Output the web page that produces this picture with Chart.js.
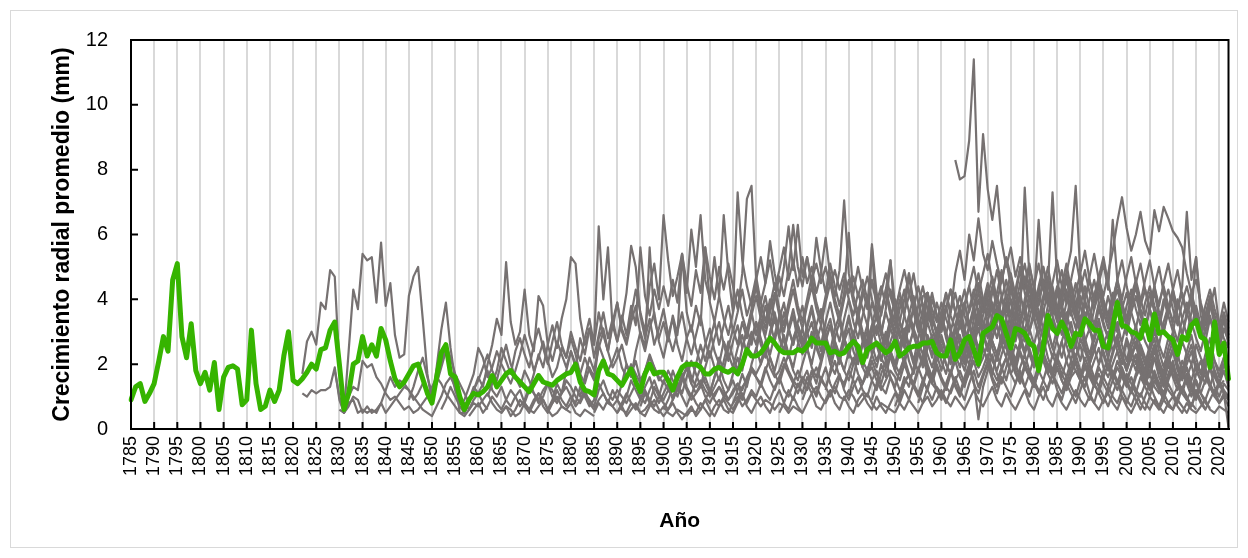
<!DOCTYPE html>
<html>
<head>
<meta charset="utf-8">
<script src="https://cdn.jsdelivr.net/npm/chart.js@4.4.1/dist/chart.umd.min.js"></script>
<style>
  html, body { margin: 0; background: #fff; }
  #wrap { width: 1248px; height: 558px; }
</style>
</head>
<body>
<div id="wrap"><canvas id="grafico" width="1248" height="558"></canvas></div>
<script>
// --- Crecimiento radial por árbol (gris) y promedio (verde) ---

const primerAnio = 1785;
const ultimoAnio = 2022;
const anios = [];
for (let a = primerAnio; a <= ultimoAnio; a++) anios.push(a);

const ticksY = [0, 2, 4, 6, 8, 10, 12];

// promedio de la cronología, 1785-2022
const promedio = [
  0.9, 1.3, 1.4, 0.85, 1.1,
  1.4, 2.1, 2.85, 2.4, 4.6, 5.1, 2.85, 2.2, 3.25, 1.8,
  1.4, 1.75, 1.2, 2.05, 0.6, 1.6, 1.9, 1.95, 1.85, 0.75,
  0.9, 3.05, 1.4, 0.6, 0.7, 1.2, 0.85, 1.2, 2.25, 3.0,
  1.5, 1.4, 1.55, 1.75, 2.0, 1.85, 2.45, 2.5, 3.05, 3.3,
  2.0, 0.6, 1.1, 2.0, 2.1, 2.85, 2.25, 2.6, 2.25, 3.1,
  2.75, 2.1, 1.55, 1.3, 1.45, 1.7, 1.95, 2.0, 1.55, 1.1,
  0.8, 1.6, 2.35, 2.6, 1.7, 1.6, 1.0, 0.6, 0.9, 1.1,
  1.05, 1.15, 1.3, 1.65, 1.3, 1.5, 1.7, 1.8, 1.6, 1.45,
  1.3, 1.15, 1.4, 1.65, 1.45, 1.4, 1.35, 1.5, 1.6, 1.7,
  1.75, 2.0, 1.45, 1.2, 1.15, 1.05, 1.8, 2.1, 1.7, 1.65,
  1.5, 1.35, 1.6, 1.85, 1.45, 1.15, 1.7, 2.0, 1.7, 1.75,
  1.75, 1.5, 1.2, 1.6, 1.9, 2.0, 2.0, 2.0, 1.9, 1.7,
  1.7, 1.85, 1.9, 1.8, 1.75, 1.85, 1.7, 2.0, 2.45, 2.25,
  2.25, 2.35, 2.55, 2.8, 2.65, 2.45, 2.35, 2.35, 2.35, 2.45,
  2.4, 2.55, 2.8, 2.65, 2.65, 2.65, 2.35, 2.4, 2.3, 2.35,
  2.55, 2.7, 2.55, 2.05, 2.45, 2.55, 2.65, 2.5, 2.35, 2.45,
  2.7, 2.25, 2.35, 2.5, 2.55, 2.55, 2.65, 2.65, 2.7, 2.35,
  2.25, 2.25, 2.75, 2.15, 2.35, 2.75, 2.85, 2.45, 2.0, 2.95,
  3.05, 3.15, 3.5, 3.4, 2.95, 2.5, 3.1, 3.05, 2.95, 2.65,
  2.55, 1.8, 2.55, 3.5, 3.1, 2.95, 3.3, 3.0, 2.55, 2.95,
  2.9, 3.4, 3.25, 3.05, 3.05, 2.55, 2.5, 3.15, 3.9, 3.2,
  3.15, 3.0, 2.95, 2.8, 3.35, 2.75, 3.55, 2.95, 3.0, 2.85,
  2.75, 2.3, 2.85, 2.75, 3.2, 3.35, 2.85, 2.75, 1.9, 3.3,
  2.3, 2.65, 1.55
];

// series individuales: año de inicio y valores anuales
const inicioArboles = [1822, 1822, 1830, 1829, 1845, 1852, 1858, 1862, 1865, 1870,
                       1875, 1880, 1885, 1890, 1895, 1900, 1905, 1910, 1915, 1920,
                       1925, 1935, 1945, 1963, 1955, 1950, 1940, 1930, 1890, 1950,
                       1958];

const arbol01 = [1.7, 2.7, 3.0, 2.6, 3.9, 3.7, 4.9, 4.7, 1.9, 0.5,
  0.7, 1.0, 0.9, 0.5, 0.7, 0.5, 0.6, 0.8, 0.5, 0.7,
  0.9, 1.1, 1.3, 1.2, 1.0, 0.8, 0.6, 0.5, 0.4, 0.7,
  1.0, 1.4, 1.6, 1.3, 1.0, 0.8, 0.6, 0.9, 1.1, 0.8, 0.6];
const arbol02 = [1.1, 1.0, 1.2, 1.1, 1.2, 1.2, 1.3, 1.9, 0.9, 0.5,
  1.0, 1.3, 1.2, 2.1, 1.9, 2.0, 1.6, 1.4, 1.1, 0.9,
  1.0, 0.8, 0.6, 0.7, 0.5, 0.6, 0.8, 1.0, 1.3, 1.6,
  1.4, 1.1, 0.9, 0.7, 0.5, 0.4, 0.6, 0.8, 0.7, 0.9,
  1.1, 0.8, 0.6, 0.5, 0.7, 0.6, 0.4, 0.5, 0.8, 0.6,
  0.5, 0.7, 0.9, 0.6, 0.4, 0.5, 0.7, 0.6, 0.5];
const arbol03 = [0.6, 0.5, 2.4, 4.3, 3.7, 5.4, 5.2, 5.3, 3.9, 5.75,
  3.8, 4.5, 2.9, 2.2, 2.3, 4.1, 4.7, 5.0, 3.4, 1.7,
  0.8, 1.9, 3.05, 3.9, 2.5, 1.5, 0.5, 0.5, 0.9, 1.3,
  1.1, 1.4, 1.8, 1.2, 1.0, 1.3, 0.9, 0.7, 1.0, 1.2,
  0.8, 0.6, 0.9, 1.1, 0.7, 0.5, 0.8, 1.0, 0.7, 0.6,
  0.8, 0.5, 0.4, 0.6, 0.5, 0.4];
const arbol04 = [1.8,
  1.0, 0.5, 0.8, 0.9, 0.5, 0.6, 0.5, 0.6, 0.5, 0.8,
  1.2, 1.6, 1.3, 1.5, 1.4, 1.2, 0.9, 1.1, 1.4, 1.2,
  0.9, 1.5, 2.0, 2.6, 2.2, 1.7, 1.4, 1.1, 0.8, 1.2,
  1.5, 1.9, 2.3, 1.8, 1.5, 2.1, 2.6, 2.0, 1.6, 1.3,
  1.8, 1.5, 1.1, 0.9, 1.2, 1.4, 1.0, 0.8, 1.1, 1.3,
  1.0, 0.7, 0.9, 1.2, 0.8, 0.6, 0.9, 1.1, 0.8, 0.7,
  0.9, 0.6, 0.5, 0.8, 0.7, 0.5, 0.6, 0.8, 0.6, 0.5,
  0.7, 0.5, 0.4, 0.6, 0.5, 0.4];
const arbol05 = [0.9, 1.3, 1.8, 2.2, 1.6, 1.1,
  1.4, 1.9, 2.4, 1.8, 1.2, 0.8, 0.9, 1.3, 1.7, 2.5,
  2.2, 1.6, 1.9, 2.4, 2.0, 1.7, 1.4, 1.8, 2.3, 2.9,
  2.4, 1.8, 2.2, 2.7, 2.1, 1.6, 1.9, 2.5, 2.2, 2.8,
  2.3, 1.7, 1.4, 1.9, 1.6, 2.8, 3.1, 2.4, 1.9, 2.2,
  2.6, 2.0, 1.7, 2.1, 1.5, 1.8, 2.3, 1.9, 1.6, 1.4,
  1.8, 1.5, 1.2, 1.6, 1.9, 1.4, 1.1, 1.3, 1.6, 1.2,
  1.0, 1.3, 1.1, 0.9, 1.2, 1.4, 1.0, 0.8, 1.1, 0.9,
  0.7, 0.9, 0.8, 0.6, 0.8, 0.7, 0.5, 0.7, 0.6, 0.5];
const arbol06 = [0.6, 0.9, 1.3, 1.0, 0.7, 0.5, 0.8, 1.2,
  1.6, 1.3, 2.0, 2.6, 3.4, 2.9, 5.15, 3.3, 2.6, 3.0,
  4.3, 2.9, 2.4, 4.1, 3.8, 2.6, 2.1, 2.7, 2.3, 1.9,
  2.4, 2.0, 1.7, 2.2, 1.8, 1.5, 2.6, 2.2, 1.8, 2.1,
  2.5, 1.9, 1.6, 2.0, 1.7, 1.4, 1.8, 2.2, 1.9, 1.5,
  1.7, 1.4, 1.2, 1.5, 1.8, 2.1, 1.6, 1.3, 1.5, 1.2,
  1.0, 1.3, 1.6, 1.2, 0.9, 1.1, 1.4, 1.2, 1.6, 1.9,
  1.7, 2.0, 2.4, 1.9, 1.6, 1.8, 2.2, 1.8, 1.5, 1.3,
  1.6, 1.4, 1.1, 1.3, 1.0, 0.8, 1.1, 1.3, 1.0, 0.9,
  1.2, 1.0, 0.7, 0.9, 1.1, 0.8, 0.6, 0.8, 0.7, 0.6, 0.5];
const arbol07 = [0.4, 0.6,
  0.8, 0.5, 0.7, 1.0, 0.8, 0.6, 0.9, 1.2, 1.0, 0.7,
  0.9, 1.3, 1.1, 0.8, 1.0, 1.4, 1.2, 0.9, 1.1, 1.5,
  1.3, 1.0, 0.8, 1.1, 0.9, 0.7, 1.2, 1.5, 1.1, 0.9,
  1.2, 1.0, 0.8, 1.1, 1.4, 1.0, 0.8, 1.2, 1.5, 1.1,
  0.9, 1.2, 1.0, 1.3, 1.6, 1.2, 0.9, 1.1, 1.4, 1.0,
  0.8, 1.1, 1.3, 1.0, 1.2, 1.5, 1.1, 0.9, 1.4, 1.8,
  1.6, 1.4, 1.9, 1.5, 1.2, 1.6, 2.0, 1.7, 1.4, 1.8,
  1.5, 1.2, 1.6, 1.9, 1.5, 1.3, 1.7, 2.1, 1.6, 1.4,
  1.8, 1.5, 1.1, 1.4, 1.7, 1.9, 1.5, 1.2, 1.5, 1.8,
  1.6, 1.2, 1.4, 1.7, 1.3, 1.1, 1.5, 1.8, 1.4, 1.2,
  1.0, 1.3, 1.1, 1.5, 1.8, 1.4, 1.7, 2.1, 1.6, 1.9,
  2.3, 1.8, 1.5, 1.9, 2.2, 1.7, 2.0, 1.6, 1.3, 1.7,
  1.4, 1.1, 1.5, 2.0, 1.7, 1.9, 1.5, 1.2, 1.6, 1.8,
  1.5, 1.9, 1.6, 1.3, 1.7, 1.4, 1.1, 1.5, 1.9, 1.6,
  1.3, 1.6, 1.2, 1.0, 1.4, 1.7, 1.3, 1.1, 1.5, 1.2,
  1.0, 1.3, 1.1, 0.9, 1.2, 1.5, 1.1, 0.9, 1.3, 1.0,
  0.8, 1.1, 0.9];
const arbol08 = [1.0, 1.4, 1.8, 2.5, 2.1, 1.7, 2.4, 2.8,
  2.3, 1.9, 2.6, 3.1, 2.5, 2.0, 2.7, 3.3, 2.6, 2.2,
  3.0, 2.5, 2.1, 2.8, 3.4, 2.6, 6.25, 4.0, 5.6, 3.1,
  3.9, 3.0, 2.6, 3.3, 3.8, 2.9, 2.4, 3.1, 3.6, 2.7,
  2.2, 2.9, 3.4, 2.6, 2.1, 2.8, 3.2, 2.5, 2.0, 2.6,
  3.1, 2.4, 2.0, 2.7, 2.3, 1.9, 2.5, 2.9, 2.3, 2.8,
  3.3, 2.6, 2.2, 2.9, 3.4, 2.8, 2.4, 3.0, 3.5, 2.7,
  2.3, 2.9, 3.3, 2.6, 2.2, 2.8, 3.2, 2.5, 2.1, 2.7,
  3.1, 2.4, 2.0, 2.6, 3.0, 2.3, 1.9, 2.5, 2.9, 2.2,
  1.8, 2.4, 2.8, 2.1, 1.7, 2.3, 2.7, 2.0, 1.6, 2.2,
  2.6, 2.0, 1.7, 2.4, 2.9, 2.3, 2.0, 2.6, 3.1, 2.5,
  2.1, 2.8, 3.2, 2.6, 2.2, 2.9, 3.3, 2.7, 2.3, 2.8,
  2.4, 2.0, 2.6, 3.1, 2.5, 2.1, 2.7, 3.2, 2.6, 2.2,
  2.8, 2.4, 2.0, 2.5, 2.9, 2.3, 1.9, 2.4, 2.8, 2.2,
  1.8, 2.3, 2.7, 2.1, 1.7, 2.2, 2.6, 2.0, 1.6, 2.1,
  2.5, 1.9, 1.6, 2.0, 2.4, 1.8, 1.5, 1.9, 2.3, 1.7,
  1.4, 1.8, 1.3];
const arbol09 = [0.5, 0.7, 0.4, 0.6, 0.9,
  0.7, 0.5, 0.8, 1.1, 0.9, 0.6, 0.8, 1.2, 0.9, 0.7,
  1.0, 0.8, 1.3, 1.0, 0.7, 0.9, 1.4, 1.1, 0.8, 1.2,
  0.9, 0.7, 1.0, 1.5, 1.2, 0.9, 1.3, 1.6, 1.1, 0.8,
  1.1, 1.4, 0.9, 1.2, 1.7, 1.3, 1.0, 1.5, 1.9, 1.4,
  1.1, 1.6, 2.0, 1.5, 1.2, 1.7, 2.2, 1.8, 2.5, 3.0,
  2.6, 3.3, 2.8, 2.3, 2.9, 3.5, 2.7, 2.2, 2.8, 3.2,
  2.6, 3.1, 3.7, 2.9, 2.4, 3.0, 3.4, 2.7, 2.3, 2.9,
  3.5, 2.8, 2.2, 2.7, 3.2, 2.6, 2.1, 2.5, 3.0, 2.4,
  2.0, 2.6, 3.1, 2.5, 2.0, 2.4, 2.9, 2.3, 1.9, 2.5,
  2.1, 1.7, 2.3, 2.8, 2.2, 1.8, 2.4, 3.0, 2.5, 2.9,
  3.4, 2.7, 2.3, 2.9, 3.3, 2.6, 2.1, 2.7, 3.1, 2.5,
  2.0, 2.6, 3.2, 2.7, 2.2, 2.8, 3.3, 2.6, 2.1, 2.7,
  3.1, 2.5, 2.0, 2.4, 2.9, 2.3, 1.8, 2.3, 2.8, 2.2,
  1.8, 2.2, 2.6, 2.0, 1.6, 2.1, 2.5, 1.9, 1.5, 2.0,
  2.4, 1.8, 1.5, 1.9, 1.4, 1.1];
const arbol10 = [0.8, 1.2, 1.7, 2.3, 1.9, 2.6, 3.2, 2.5, 3.4, 4.0,
  5.3, 5.1, 3.4, 2.6, 3.1, 2.2, 2.9, 3.6, 2.8, 3.4,
  2.7, 3.3, 4.2, 5.65, 5.0, 3.5, 2.8, 3.4, 2.6, 3.1,
  3.7, 2.9, 2.4, 3.0, 3.6, 2.8, 2.3, 2.9, 3.5, 2.7,
  2.2, 2.8, 3.3, 2.6, 2.1, 2.7, 3.2, 2.5, 3.0, 3.6,
  2.9, 3.5, 4.1, 3.3, 2.7, 3.4, 3.9, 3.1, 2.6, 3.3,
  3.8, 3.0, 2.5, 3.2, 3.7, 2.9, 2.4, 3.1, 3.5, 2.8,
  2.3, 2.9, 3.4, 2.7, 2.2, 2.8, 3.2, 2.6, 2.1, 2.7,
  3.1, 2.5, 2.0, 2.6, 3.0, 2.4, 1.9, 2.5, 2.9, 2.3,
  1.8, 2.4, 2.9, 2.3, 1.9, 2.6, 3.2, 2.7, 3.5, 2.9,
  2.4, 3.1, 3.7, 3.0, 2.5, 3.2, 3.6, 2.9, 2.4, 3.0,
  3.5, 2.8, 2.3, 2.9, 3.4, 2.7, 2.2, 2.8, 3.3, 2.6,
  2.1, 2.7, 3.1, 2.5, 2.0, 2.6, 3.0, 2.4, 2.9, 2.3,
  1.9, 2.5, 2.9, 2.2, 1.8, 2.4, 2.8, 2.1, 1.7, 2.3,
  2.7, 2.0, 1.6, 2.2, 2.6, 1.9, 1.5, 2.1, 2.5, 1.8,
  1.4, 2.0, 1.6];
const arbol11 = [0.6, 0.9, 1.4, 1.1, 1.8,
  2.4, 1.9, 2.8, 2.3, 3.1, 2.6, 3.6, 2.9, 2.4, 3.3,
  3.9, 3.1, 2.7, 3.5, 4.3, 3.6, 3.0, 4.4, 5.1, 4.0,
  6.6, 5.2, 4.1, 4.7, 5.4, 4.2, 6.15, 5.0, 6.6, 4.6,
  4.0, 5.3, 4.1, 6.6, 4.8, 3.6, 7.3, 5.2, 4.4, 3.8,
  4.5, 3.9, 3.3, 4.0, 3.5, 2.9, 3.6, 3.1, 2.6, 3.2,
  2.8, 2.4, 3.0, 2.5, 2.1, 2.7, 3.2, 2.6, 2.2, 2.8,
  2.4, 2.0, 2.5, 2.1, 1.8, 2.3, 2.7, 2.2, 1.9, 2.4,
  2.0, 1.7, 2.2, 2.6, 2.1, 1.8, 2.3, 1.9, 1.6, 2.1,
  2.5, 2.0, 1.7, 2.2, 2.6, 2.1, 2.4, 2.9, 2.3, 2.7,
  3.1, 2.5, 2.1, 2.6, 3.0, 2.4, 2.0, 2.5, 2.9, 2.3,
  1.9, 2.4, 2.8, 2.2, 1.8, 2.3, 2.7, 2.1, 1.7, 2.2,
  2.6, 2.0, 1.7, 2.1, 2.5, 1.9, 1.6, 2.0, 2.4, 1.8,
  1.5, 1.9, 2.3, 1.7, 1.4, 1.8, 2.2, 1.6, 1.3, 1.7,
  2.1, 1.5, 1.2, 1.6, 2.0, 1.4, 1.1, 1.5, 1.9, 1.3,
  1.0, 1.4, 1.2];
const arbol12 = [0.8, 1.3, 1.0, 1.6, 2.2, 1.8, 2.5, 3.0, 2.4, 3.2,
  2.7, 3.5, 2.9, 3.8, 3.2, 5.6, 4.1, 3.5, 4.3, 3.7,
  4.4, 3.8, 4.6, 3.9, 5.4, 4.5, 3.8, 4.9, 4.2, 5.6,
  4.7, 4.0, 5.0, 4.3, 5.1, 4.4, 3.7, 4.8, 7.1, 7.5,
  4.6, 5.3, 4.5, 5.8, 4.8, 4.1, 5.0, 6.25, 4.9, 6.3,
  4.7, 5.3, 4.4, 5.9, 4.9, 4.2, 5.1, 4.4, 3.8, 4.6,
  4.0, 3.5, 4.2, 3.7, 3.2, 3.9, 3.4, 3.0, 3.6, 3.1,
  2.7, 3.3, 2.9, 2.5, 3.1, 2.7, 2.3, 2.9, 2.5, 2.2,
  2.8, 2.4, 2.1, 2.6, 2.3, 2.0, 2.5, 2.9, 2.4, 2.8,
  3.2, 2.7, 2.3, 2.8, 2.5, 2.1, 2.6, 2.3, 1.9, 2.4,
  2.1, 1.8, 2.3, 2.0, 1.7, 2.2, 1.9, 1.6, 2.1, 1.8,
  1.5, 2.0, 1.7, 1.4, 1.9, 1.6, 1.3, 1.8, 1.5, 1.2,
  1.7, 1.4, 1.1, 1.6, 1.3, 1.0, 1.5, 1.2, 0.9, 1.4,
  1.1, 0.8, 1.3, 1.0, 0.7, 1.2, 0.9, 0.6];
const arbol13 = [0.5, 0.8, 0.6, 0.9, 0.7,
  0.5, 0.8, 1.1, 0.8, 0.6, 0.9, 1.2, 0.9, 0.7, 1.0,
  0.8, 0.6, 0.9, 1.3, 1.0, 0.7, 1.1, 0.8, 0.6, 0.9,
  1.2, 0.9, 0.7, 1.0, 0.8, 0.6, 0.9, 1.3, 1.5, 1.9,
  1.6, 1.3, 1.8, 2.2, 1.7, 1.4, 1.9, 2.3, 1.8, 1.5,
  2.0, 2.5, 1.9, 1.6, 2.1, 2.6, 2.0, 1.7, 2.2, 1.8,
  1.5, 2.0, 2.4, 1.9, 1.6, 2.1, 1.7, 1.4, 1.9, 2.3,
  1.8, 1.5, 2.0, 1.6, 1.3, 1.8, 2.2, 1.7, 1.4, 1.9,
  1.5, 1.2, 1.7, 2.1, 1.6, 1.3, 1.8, 2.3, 1.9, 2.2,
  2.6, 2.1, 1.8, 2.3, 2.7, 2.2, 1.8, 2.4, 2.0, 1.7,
  2.2, 2.6, 2.1, 1.7, 2.3, 1.9, 1.6, 2.1, 2.5, 2.0,
  1.6, 2.2, 1.8, 1.5, 2.0, 2.4, 1.9, 1.6, 2.1, 1.7,
  1.4, 1.9, 2.3, 1.8, 1.5, 2.0, 1.6, 1.3, 1.8, 2.2,
  1.7, 1.4, 1.9, 1.5, 1.2, 1.7, 2.1, 1.6, 1.3, 1.8,
  1.4, 1.1, 0.05];
const arbol14 = [0.9, 1.4, 2.0, 1.6, 2.4, 3.0, 2.5, 5.6, 3.4, 2.8,
  3.3, 2.7, 3.5, 2.9, 5.4, 3.6, 3.0, 3.8, 3.2, 5.6,
  3.9, 3.3, 4.1, 3.4, 2.9, 3.6, 4.3, 3.5, 3.0, 3.7,
  4.4, 3.6, 3.1, 3.8, 4.5, 3.7, 3.2, 3.9, 4.6, 3.8,
  3.3, 4.0, 4.7, 3.9, 3.4, 4.1, 4.8, 4.0, 3.5, 4.2,
  6.05, 4.1, 3.6, 4.3, 3.7, 5.7, 4.2, 3.6, 4.3, 5.2,
  3.8, 3.3, 4.0, 4.8, 3.9, 3.4, 4.1, 4.2, 3.5, 3.0,
  3.6, 4.2, 3.5, 3.1, 3.7, 4.3, 3.6, 4.1, 4.8, 4.0,
  3.5, 4.2, 4.9, 4.1, 3.6, 4.3, 3.7, 3.2, 3.8, 4.4,
  3.7, 3.2, 3.9, 4.5, 3.8, 3.3, 4.0, 4.6, 3.9, 3.4,
  4.1, 3.5, 3.0, 3.7, 4.2, 3.6, 3.1, 3.8, 4.3, 3.7,
  3.2, 3.8, 4.4, 3.6, 3.1, 3.7, 4.2, 3.5, 3.0, 3.6,
  4.1, 3.4, 2.9, 3.5, 4.0, 3.3, 2.8, 3.4, 3.9, 3.2,
  2.7, 3.55, 2.9];
const arbol15 = [0.7, 1.1, 0.8, 1.3, 1.0,
  1.5, 1.2, 1.8, 1.4, 1.1, 1.6, 2.1, 1.7, 1.3, 1.9,
  2.4, 1.9, 1.5, 2.1, 2.7, 2.2, 1.8, 2.5, 3.1, 2.6,
  3.3, 2.8, 2.3, 3.0, 3.6, 2.9, 2.4, 3.1, 3.7, 3.0,
  2.5, 3.2, 3.8, 3.1, 2.6, 3.3, 3.9, 3.2, 2.7, 3.4,
  4.0, 3.3, 2.8, 3.5, 4.1, 3.4, 2.9, 3.6, 4.2, 3.5,
  3.0, 3.7, 4.3, 3.6, 3.1, 3.8, 4.4, 3.7, 3.2, 3.9,
  3.4, 2.9, 3.6, 4.2, 3.5, 3.0, 3.7, 4.3, 3.6, 3.1,
  3.8, 4.4, 3.7, 3.2, 3.9, 4.5, 3.8, 3.3, 4.0, 4.6,
  3.9, 3.4, 4.1, 4.7, 4.0, 3.5, 4.2, 4.8, 4.1, 3.6,
  4.3, 4.9, 4.2, 3.7, 4.4, 3.8, 3.3, 4.0, 4.5, 3.9,
  3.4, 4.1, 4.6, 4.0, 3.5, 4.2, 3.6, 3.1, 3.8, 4.3,
  3.7, 3.2, 3.9, 4.4, 3.8, 3.3, 2.9, 3.5, 4.0, 3.4,
  2.9, 3.5, 3.0];
const arbol16 = [0.6, 0.9, 1.3, 1.0, 1.5, 1.9, 1.4, 2.0, 2.6, 2.1,
  2.7, 3.3, 2.6, 3.2, 3.8, 3.0, 3.6, 4.3, 3.5, 4.0,
  4.7, 3.9, 4.5, 5.2, 4.3, 4.9, 5.6, 4.6, 5.2, 4.4,
  5.3, 4.5, 5.0, 4.2, 4.8, 5.9, 4.7, 4.1, 4.9, 7.05,
  4.8, 4.2, 5.0, 4.3, 3.8, 4.6, 4.0, 3.5, 4.3, 3.7,
  3.2, 4.0, 3.5, 3.0, 3.8, 3.3, 2.8, 3.6, 3.1, 2.7,
  3.4, 2.9, 2.5, 3.2, 2.8, 2.4, 3.1, 3.6, 3.0, 3.5,
  4.0, 3.3, 2.8, 3.4, 3.9, 3.2, 2.7, 3.3, 3.8, 3.1,
  2.6, 3.2, 3.7, 3.0, 2.5, 3.1, 3.6, 2.9, 2.4, 3.0,
  3.5, 2.8, 2.3, 2.9, 3.4, 2.7, 2.2, 2.8, 3.3, 2.6,
  2.1, 2.7, 3.2, 2.5, 2.0, 2.6, 3.1, 2.4, 1.9, 2.5,
  3.0, 2.3, 1.8, 2.4, 2.9, 2.2, 1.7, 2.3, 2.8, 2.1,
  1.6, 2.2, 1.9];
const arbol17 = [0.4, 0.6, 0.5, 0.8, 0.6,
  0.4, 0.7, 0.9, 0.6, 0.5, 0.8, 1.0, 0.7, 0.9, 1.2,
  1.0, 1.4, 1.1, 0.9, 1.3, 1.6, 1.2, 1.0, 1.4, 1.1,
  1.5, 1.8, 1.3, 1.1, 1.6, 1.3, 1.0, 1.4, 1.7, 1.2,
  0.9, 1.3, 1.6, 1.2, 1.0, 1.5, 1.8, 1.3, 1.1, 1.6,
  1.2, 0.9, 1.4, 1.7, 1.3, 1.0, 1.5, 1.2, 0.9, 1.3,
  1.1, 0.8, 1.2, 1.6, 1.2, 0.9, 1.4, 1.8, 1.3, 1.7,
  2.1, 1.6, 1.3, 1.8, 2.2, 1.7, 1.4, 1.9, 2.3, 1.8,
  1.5, 2.0, 2.4, 1.9, 1.6, 2.1, 1.7, 1.4, 1.9, 2.3,
  1.8, 1.5, 2.0, 1.6, 1.3, 1.8, 2.2, 1.7, 1.4, 1.9,
  1.5, 1.2, 1.7, 2.1, 1.6, 1.3, 1.8, 1.4, 1.1, 1.6,
  2.0, 1.5, 1.2, 1.7, 1.3, 1.0, 1.5, 1.9, 1.4, 1.1,
  1.5, 1.2, 1.0];
const arbol18 = [1.1, 1.6, 2.2, 1.8, 2.5, 3.1, 2.6, 3.3, 2.8, 3.5,
  4.1, 3.4, 2.9, 3.6, 4.2, 3.5, 3.0, 3.7, 4.3, 3.6,
  3.1, 3.8, 4.4, 3.7, 3.2, 3.9, 4.5, 3.8, 3.3, 4.0,
  4.6, 3.9, 3.4, 4.1, 4.7, 4.0, 3.5, 4.2, 4.8, 4.1,
  3.6, 4.3, 4.9, 4.2, 3.7, 4.4, 3.8, 3.3, 4.0, 3.5,
  3.0, 3.7, 4.3, 3.6, 3.1, 3.8, 4.4, 5.0, 4.2, 4.8,
  5.4, 4.5, 3.9, 4.6, 5.2, 4.4, 3.8, 4.5, 5.1, 4.3,
  3.7, 4.4, 5.0, 4.2, 3.6, 4.3, 4.9, 4.1, 3.5, 4.2,
  4.8, 4.0, 3.4, 4.1, 4.7, 3.9, 3.3, 4.0, 4.6, 3.8,
  3.2, 3.9, 4.5, 3.7, 3.1, 3.8, 4.4, 3.6, 3.0, 3.7,
  4.3, 3.5, 2.9, 3.6, 4.2, 3.4, 2.8, 3.5, 4.1, 3.3,
  2.7, 3.4, 2.6];
const arbol19 = [0.8, 1.2, 1.7, 1.3, 2.0,
  2.5, 2.0, 2.7, 2.2, 1.8, 2.4, 2.9, 2.3, 1.9, 2.6,
  3.1, 2.5, 2.0, 2.7, 3.2, 2.6, 2.1, 2.8, 3.3, 2.7,
  2.2, 2.9, 3.4, 2.8, 2.3, 3.0, 3.5, 2.9, 2.4, 3.1,
  3.6, 3.0, 2.5, 3.2, 3.7, 3.1, 2.6, 3.3, 2.8, 2.3,
  2.9, 2.4, 2.0, 2.7, 3.3, 2.7, 2.2, 2.9, 3.5, 2.8,
  3.3, 3.9, 3.2, 2.7, 3.4, 4.0, 3.3, 2.8, 3.5, 4.1,
  3.4, 2.9, 3.6, 4.2, 3.5, 3.0, 3.7, 4.3, 3.6, 3.1,
  3.8, 4.4, 3.7, 3.2, 3.9, 3.3, 2.8, 3.5, 4.0, 3.4,
  2.9, 3.6, 4.1, 3.5, 3.0, 3.7, 3.1, 2.6, 3.3, 3.8,
  3.2, 2.7, 3.4, 3.9, 3.3, 2.8, 2.4, 3.0, 3.5, 2.9,
  2.5, 3.1, 2.7];
const arbol20 = [2.4, 3.1, 3.8, 3.2, 4.0, 4.7, 4.1, 4.9, 6.3, 5.0,
  4.4, 5.3, 4.6, 5.1, 4.5, 5.0, 4.4, 4.9, 4.3, 4.8,
  4.2, 4.7, 4.1, 4.6, 4.0, 4.5, 3.9, 4.4, 3.8, 4.3,
  3.7, 4.2, 3.6, 4.1, 4.8, 3.9, 3.4, 4.2, 3.7, 3.3,
  3.9, 3.4, 3.0, 3.6, 4.1, 3.5, 3.1, 3.7, 4.2, 3.6,
  4.1, 4.7, 4.0, 3.5, 4.2, 4.8, 4.1, 3.6, 7.45, 4.7,
  4.0, 6.45, 4.3, 5.0, 4.2, 3.7, 4.4, 5.1, 4.3, 3.8,
  4.5, 3.9, 3.4, 4.1, 4.6, 4.0, 3.5, 4.2, 3.6, 3.1,
  3.8, 4.3, 3.7, 3.2, 3.9, 4.4, 3.8, 3.3, 4.0, 3.5,
  3.0, 3.7, 4.2, 3.6, 3.1, 3.8, 3.2, 2.7, 3.4, 2.9,
  2.5, 3.1, 2.8];
const arbol21 = [0.5, 0.8, 1.2, 0.9, 1.4,
  1.1, 1.6, 1.3, 1.0, 1.5, 1.9, 1.4, 1.1, 1.6, 1.3,
  1.8, 2.2, 1.7, 1.4, 1.9, 1.5, 1.2, 1.7, 2.1, 1.6,
  1.3, 1.8, 2.2, 1.7, 1.4, 1.9, 1.5, 1.2, 1.7, 2.0,
  1.6, 1.3, 1.8, 1.4, 1.1, 1.6, 2.0, 1.5, 0.3, 1.3,
  1.8, 2.3, 1.7, 1.4, 1.9, 2.4, 1.8, 1.5, 2.0, 1.6,
  1.3, 1.8, 2.2, 1.7, 1.4, 1.9, 1.5, 1.2, 1.7, 2.1,
  1.6, 1.3, 1.8, 1.4, 1.1, 1.6, 2.0, 1.5, 1.2, 1.7,
  1.4, 1.1, 1.6, 1.9, 1.5, 1.2, 1.7, 1.3, 1.0, 1.5,
  1.9, 1.4, 1.1, 1.6, 1.2, 0.9, 1.4, 1.8, 1.3, 1.0,
  1.4, 1.1, 0.9];
const arbol22 = [1.2, 1.8, 2.5, 2.0, 2.8,
  3.4, 2.8, 3.6, 3.0, 2.5, 3.2, 3.8, 3.1, 2.6, 3.4,
  4.0, 3.3, 2.8, 3.5, 4.1, 3.4, 2.9, 3.6, 4.2, 3.5,
  3.0, 3.7, 4.3, 3.6, 3.1, 3.8, 4.4, 3.7, 3.2, 3.9,
  4.5, 3.8, 3.3, 4.0, 4.6, 3.9, 3.4, 4.1, 4.7, 4.0,
  3.5, 4.2, 5.0, 4.4, 7.3, 4.6, 3.9, 4.8, 5.5, 7.5,
  4.8, 5.5, 4.6, 4.0, 4.7, 5.3, 4.5, 3.9, 4.6, 5.2,
  4.4, 3.8, 4.5, 5.1, 4.3, 3.7, 4.4, 5.0, 4.2, 3.6,
  4.3, 4.9, 4.1, 3.5, 4.2, 3.6, 3.1, 3.8, 4.3, 3.7,
  3.2, 3.9, 3.3];
const arbol23 = [0.9, 1.4, 2.0, 1.6, 2.3,
  2.9, 2.4, 3.1, 2.6, 2.1, 2.8, 3.4, 2.7, 2.2, 2.9,
  3.5, 2.8, 2.3, 3.0, 3.6, 2.9, 2.4, 3.1, 3.7, 3.0,
  2.5, 3.2, 3.8, 3.1, 2.6, 3.3, 3.9, 3.2, 2.7, 3.4,
  4.0, 3.3, 2.8, 3.5, 4.1, 3.4, 2.9, 3.6, 3.0, 2.5,
  3.2, 2.6, 2.1, 2.8, 3.3, 2.7, 2.2, 2.9, 2.4, 2.0,
  2.7, 2.2, 1.8, 2.4, 2.0, 1.6, 2.2, 1.8, 1.4, 2.0,
  1.6, 1.2, 1.8, 1.4, 1.0, 1.5, 1.1, 0.8, 0.65];
const arbol24 = [8.3, 7.7, 7.8, 8.9, 11.4, 6.7, 9.1,
  7.4, 6.45, 7.5, 5.8, 5.0, 5.6, 4.7, 5.3, 4.5, 5.1,
  4.3, 3.8, 4.6, 4.0, 3.5, 4.2, 3.7, 3.2, 3.9, 3.4,
  3.0, 3.6, 3.1, 2.7, 3.3, 2.8, 2.4, 3.0, 2.6, 2.2,
  2.8, 2.4, 2.0, 2.6, 2.2, 1.9, 2.4, 2.0, 1.7, 2.2,
  1.9, 1.6, 2.1, 1.8, 1.5, 2.0, 1.7, 1.4, 1.9, 1.6,
  1.3, 1.5];
const arbol25 = [0.8, 1.3, 1.9, 1.5, 2.2,
  2.8, 2.3, 3.0, 2.6, 3.3, 3.9, 3.2, 3.8, 4.5, 3.7,
  4.3, 3.6, 4.2, 4.9, 4.0, 3.5, 4.3, 5.0, 4.2, 3.7,
  4.4, 5.1, 4.3, 3.8, 4.5, 5.2, 4.4, 3.9, 4.6, 5.3,
  4.5, 4.0, 4.7, 5.4, 4.6, 4.1, 4.8, 5.5, 6.4, 7.15,
  6.2, 5.5, 6.0, 6.7, 5.8, 5.4, 6.75, 6.1, 6.85, 6.5,
  6.1, 5.9, 5.6, 4.8, 4.2, 4.6, 3.9, 3.4, 4.0, 3.5,
  3.0, 3.6, 3.1];
const arbol26 = [0.7, 1.1, 1.6, 1.3, 1.9, 2.5, 2.0, 2.7, 2.3, 3.0,
  3.6, 2.9, 2.4, 3.2, 3.8, 3.1, 2.6, 3.4, 4.0, 3.3,
  2.8, 3.5, 4.1, 3.4, 2.9, 3.6, 4.2, 3.5, 3.0, 3.7,
  4.3, 3.6, 3.1, 3.8, 4.4, 3.7, 3.2, 3.9, 4.5, 3.8,
  3.3, 4.0, 4.6, 3.9, 4.5, 5.1, 4.3, 6.45, 4.6, 4.0,
  4.7, 5.3, 4.5, 3.9, 4.6, 5.2, 4.4, 3.8, 4.5, 5.1,
  4.3, 3.7, 4.4, 6.7, 4.6, 5.3, 3.8, 3.2, 3.9, 3.3,
  2.8, 3.4, 2.9];
const arbol27 = [1.0, 1.6, 2.3, 1.9, 2.8, 5.6, 3.5, 2.9, 3.7, 5.2,
  3.4, 2.8, 3.5, 4.8, 3.6, 3.0, 3.7, 4.2, 3.4, 2.9,
  3.5, 3.0, 2.5, 3.1, 2.6, 2.2, 2.8, 2.3, 1.9, 2.5,
  2.1, 1.7, 2.3, 1.9, 1.5, 2.1, 1.7, 1.4, 1.9, 1.6,
  1.3, 1.8, 1.5, 1.2, 1.7, 1.4, 1.1, 1.6, 1.3, 1.0,
  1.5, 1.2, 0.9, 1.4, 1.1, 0.8, 1.3, 1.0, 0.8, 1.2,
  0.9, 0.7, 1.1, 0.8, 0.6, 1.0, 0.8, 0.6, 0.9, 0.7,
  0.6, 0.9, 0.7, 0.5, 0.8, 0.6];
const arbol28 = [0.9, 1.3, 1.8, 1.4, 2.0, 2.6, 2.1, 2.7, 2.2, 1.8,
  2.4, 3.0, 2.5, 2.0, 2.6, 3.2, 2.6, 2.1, 2.8, 3.4,
  2.8, 2.3, 2.9, 3.5, 2.9, 2.4, 3.0, 4.2, 3.1, 2.6,
  3.2, 3.8, 3.1, 2.6, 3.3, 3.9, 3.2, 2.7, 3.4, 4.0,
  3.3, 2.8, 3.5, 4.1, 3.4, 2.9, 3.6, 4.2, 3.5, 3.0,
  3.7, 4.3, 3.6, 3.1, 3.8, 4.4, 3.7, 3.2, 3.9, 4.5,
  3.8, 3.3, 4.0, 4.6, 3.9, 3.4, 4.1, 3.5, 3.0, 3.7,
  4.2, 3.6, 3.1, 3.8, 4.3, 3.7, 3.2, 3.9, 4.4, 3.8,
  3.3, 4.0, 3.4, 2.9, 3.6, 5.3, 3.5, 3.0, 3.7, 4.35,
  3.2, 2.8, 2.5];
const arbol29 = [0.5, 0.7, 0.4, 0.6, 0.8, 0.5, 0.4, 0.7, 0.9, 0.6,
  0.4, 0.6, 0.8, 0.5, 0.3, 0.5, 0.7, 0.4, 0.6, 0.9,
  0.6, 0.4, 0.7, 0.9, 0.6, 0.5, 0.8, 1.1, 0.7, 0.5,
  0.8, 1.0, 0.7, 0.5, 0.9, 1.2, 0.8, 0.6, 1.0, 0.7,
  0.5, 0.8, 1.1, 0.7, 0.6, 0.9, 1.2, 0.8, 0.6, 1.0,
  0.7, 0.5, 0.9, 1.1, 0.8, 0.6, 1.0, 0.7, 0.5, 0.8,
  1.1, 0.8, 0.6, 0.9, 0.7, 0.5, 0.8, 1.0, 0.7, 0.9,
  1.2, 0.9, 0.7, 1.0, 0.8, 0.6, 0.9, 1.2, 0.9, 0.7,
  1.0, 1.3, 0.9, 0.7, 1.1, 0.8, 0.6, 0.9, 1.2, 0.8,
  0.6, 1.0, 1.3, 0.9, 0.7, 1.1, 0.8, 0.6, 0.9, 1.2,
  0.9, 0.7, 1.0, 0.8, 0.6, 0.9, 1.1, 0.8, 0.6, 1.0,
  0.7, 0.5, 0.8, 1.1, 0.8, 0.6, 0.9, 0.7, 0.5, 0.8,
  1.0, 0.7, 0.5, 0.8, 0.6, 0.5, 0.7, 0.9, 0.6, 0.5,
  0.7, 0.6, 0.5];
const arbol30 = [0.5, 0.8, 1.2, 0.9, 1.4, 1.1, 0.8, 1.3, 1.7, 1.2,
  0.9, 1.4, 1.8, 1.3, 1.0, 1.5, 1.9, 1.4, 1.1, 1.6,
  2.0, 1.5, 1.1, 1.6, 1.3, 1.0, 1.4, 1.8, 1.3, 1.0,
  1.5, 1.2, 0.9, 1.3, 1.7, 1.2, 0.9, 1.4, 1.1, 0.8,
  1.2, 1.6, 1.1, 0.8, 1.3, 1.0, 0.7, 1.1, 1.5, 1.0,
  0.8, 1.2, 0.9, 0.6, 1.0, 1.4, 1.0, 0.7, 1.1, 0.8,
  0.6, 1.0, 1.3, 0.9, 0.7, 1.1, 0.8, 0.6, 0.9, 1.2,
  0.8, 1.0, 0.7];
const arbol31 = [1.5, 2.4,
  3.3, 4.2, 3.6, 4.8, 5.5, 4.6, 6.0, 5.2, 6.5, 5.4,
  4.9, 5.8, 5.1, 4.5, 5.3, 4.7, 4.1, 4.9, 4.3, 5.0,
  4.4, 3.9, 4.6, 4.0, 3.6, 4.3, 3.8, 3.4, 4.1, 3.6,
  3.2, 3.9, 3.4, 3.0, 3.7, 3.2, 2.8, 3.5, 3.0, 2.7,
  3.3, 2.9, 2.5, 3.1, 2.7, 2.4, 3.0, 2.6, 2.2, 2.8,
  2.5, 2.1, 2.7, 2.3, 2.0, 2.6, 2.2, 1.9, 2.4, 2.1,
  1.8, 2.2, 1.9];

const arboles = [arbol01, arbol02, arbol03, arbol04, arbol05, arbol06, arbol07,
  arbol08, arbol09, arbol10, arbol11, arbol12, arbol13, arbol14, arbol15,
  arbol16, arbol17, arbol18, arbol19, arbol20, arbol21, arbol22, arbol23,
  arbol24, arbol25, arbol26, arbol27, arbol28, arbol29, arbol30, arbol31];

// ---------------------------------------------------------------

const FUENTE = '"Liberation Sans", Arial, sans-serif';
const GRIS = '#767171';
const VERDE = '#36b400';

function alinear(inicio, valores) {
  const fila = new Array(anios.length).fill(null);
  valores.forEach((v, i) => {
    const k = inicio - primerAnio + i;
    if (k < anios.length) fila[k] = v;
  });
  return fila;
}

function esQuinquenal(i) {
  return (anios[i] - primerAnio) % 5 === 0;
}

const datasets = [{
  label: 'Promedio',
  data: promedio,
  borderColor: VERDE,
  borderWidth: 5,
  borderJoinStyle: 'round',
  borderCapStyle: 'round',
  pointRadius: 0,
  tension: 0,
  order: 0
}];

arboles.forEach((serie, i) => {
  datasets.push({
    label: 'Árbol ' + (i + 1),
    data: alinear(inicioArboles[i], serie),
    borderColor: GRIS,
    borderWidth: 2.2,
    borderJoinStyle: 'round',
    pointRadius: 0,
    tension: 0,
    spanGaps: false,
    order: 1
  });
});

// marco exterior, borde del área de trazado y marcas interiores
const marcoPlugin = {
  id: 'marco',
  beforeDraw(chart) {
    const ctx = chart.ctx;
    ctx.save();
    ctx.fillStyle = '#fff';
    ctx.fillRect(0, 0, chart.width, chart.height);
    ctx.strokeStyle = '#d9d9d9';
    ctx.lineWidth = 1;
    ctx.strokeRect(10.5, 10.5, chart.width - 21, chart.height - 21);
    ctx.restore();
  },
  afterDatasetsDraw(chart) {
    const { ctx, chartArea: a, scales } = chart;
    ctx.save();
    ctx.strokeStyle = '#000';
    ctx.lineWidth = 2;
    ctx.strokeRect(a.left, a.top, a.right - a.left, a.bottom - a.top);
    ctx.beginPath();
    anios.forEach((anio, i) => {
      if (!esQuinquenal(i)) return;
      const x = scales.x.getPixelForValue(i);
      ctx.moveTo(x, a.bottom);
      ctx.lineTo(x, a.bottom - 7);
    });
    ticksY.forEach(v => {
      const y = scales.y.getPixelForValue(v);
      ctx.moveTo(a.left, y);
      ctx.lineTo(a.left + 7, y);
    });
    ctx.stroke();
    ctx.restore();
  }
};

new Chart(document.getElementById('grafico'), {
  type: 'line',
  data: { labels: anios, datasets: datasets },
  options: {
    responsive: false,
    devicePixelRatio: 1,
    animation: false,
    layout: { padding: { left: 0, right: 19, top: 40, bottom: 0 } },
    plugins: {
      legend: { display: false },
      tooltip: { enabled: false }
    },
    scales: {
      x: {
        type: 'category',
        offset: false,
        grid: { color: '#d9d9d9', lineWidth: 2, drawTicks: false },
        border: { color: '#000', width: 2 },
        ticks: {
          autoSkip: false,
          maxRotation: 90,
          minRotation: 90,
          padding: 7,
          color: '#000',
          font: { family: FUENTE, size: 18 },
          callback: function (v, i) {
            return esQuinquenal(i) ? String(anios[i]) : null;
          }
        },
        title: {
          display: true,
          text: 'Año',
          color: '#000',
          font: { family: FUENTE, size: 21, weight: 'bold' },
          padding: { top: 24, bottom: 24 }
        },
        afterFit: s => { s.height = 129; }
      },
      y: {
        min: 0,
        max: 12,
        grid: { drawOnChartArea: false, drawTicks: false },
        border: { color: '#000', width: 2 },
        ticks: {
          stepSize: 2,
          padding: 23,
          color: '#000',
          font: { family: FUENTE, size: 20 }
        },
        title: {
          display: true,
          text: 'Crecimiento radial promedio (mm)',
          color: '#000',
          font: { family: FUENTE, size: 23, weight: 'bold' },
          padding: { top: 49, bottom: 49 }
        },
        afterFit: s => { s.width = 131; }
      }
    }
  },
  plugins: [marcoPlugin]
});
</script>
</body>
</html>
